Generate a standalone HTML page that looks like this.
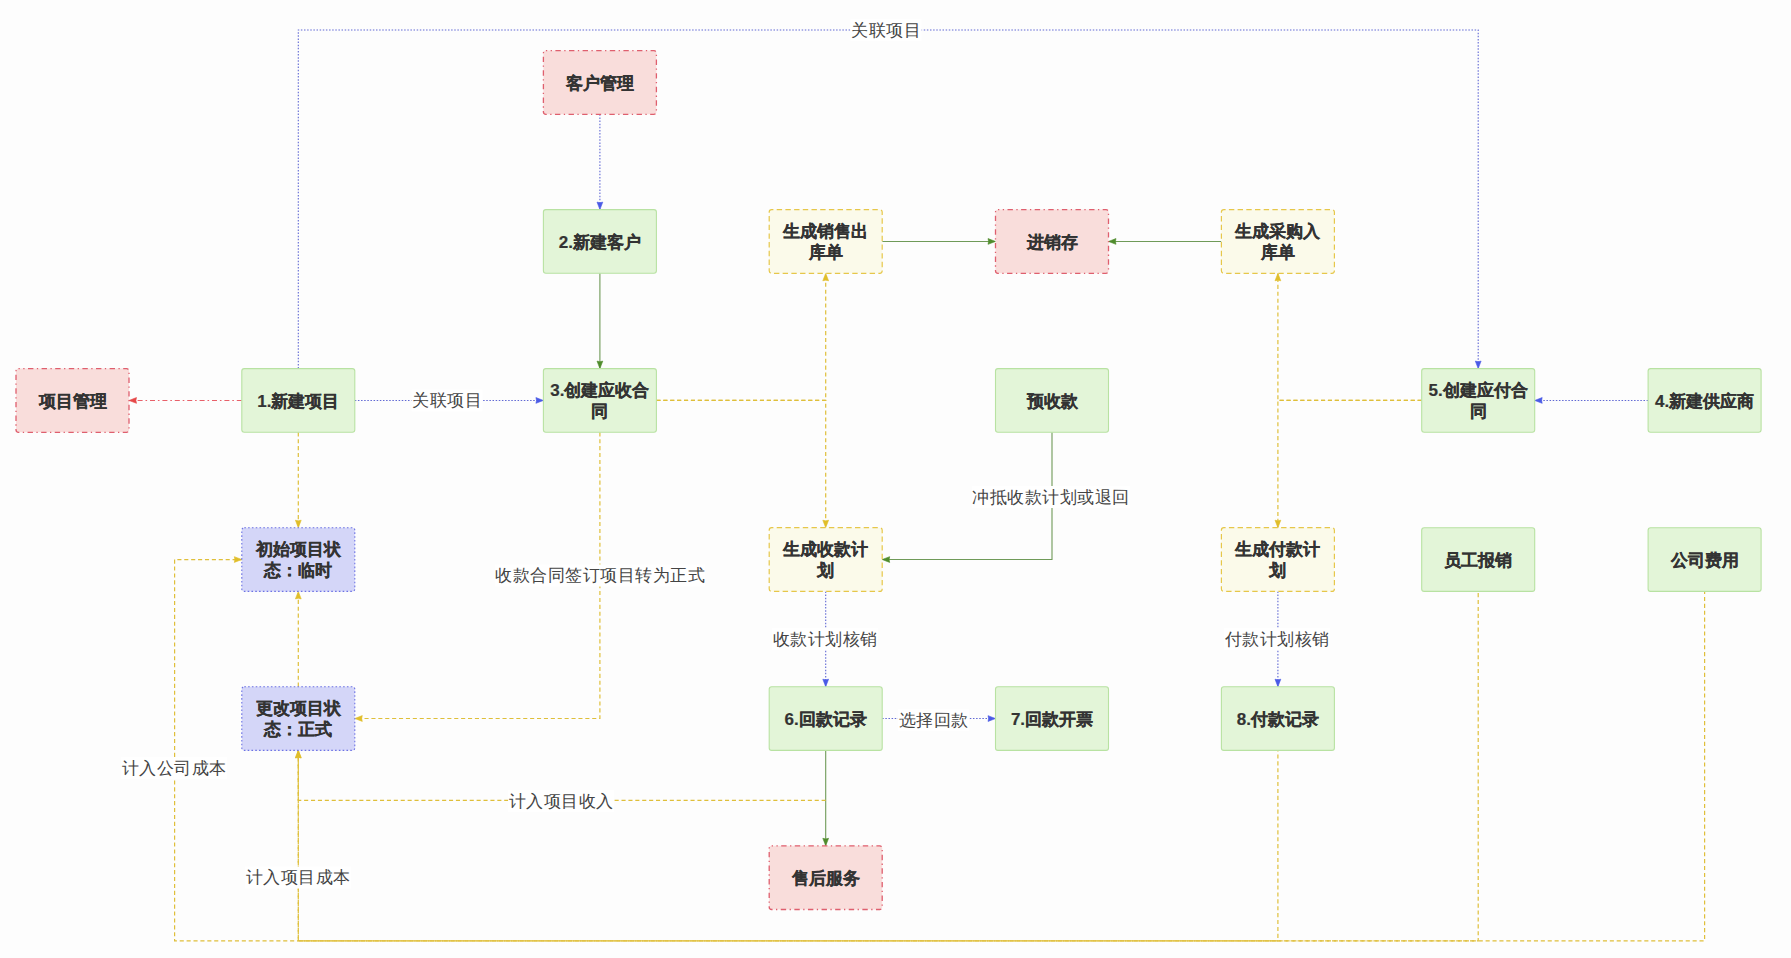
<!DOCTYPE html>
<html><head><meta charset="utf-8"><style>
html,body{margin:0;padding:0;background:#fdfdfd;width:1791px;height:958px;overflow:hidden}
svg{display:block}
text{font-family:"Liberation Sans",sans-serif}
.bt{font-size:17px;font-weight:bold;fill:#333333;stroke:#333333;stroke-width:0.2px}
.lt{font-size:17px;letter-spacing:0.5px;fill:#444444}
</style></head><body>
<svg width="1791" height="958" viewBox="0 0 1791 958">
<path d="M599.90,114.30 L599.90,209.60" fill="none" stroke="#6068d4" stroke-width="1.1" stroke-dasharray="1.5 1.63"/>
<path d="M599.90,209.60 L597.00,202.10 L599.90,202.70 L602.80,202.10 Z" fill="#4a5ae6" stroke="#4a5ae6" stroke-width="0.6"/>
<path d="M599.90,273.30 L599.90,368.60" fill="none" stroke="#6f9a58" stroke-width="1.1"/>
<path d="M599.90,368.60 L597.00,361.10 L599.90,361.70 L602.80,361.10 Z" fill="#4f8c2c" stroke="#4f8c2c" stroke-width="0.6"/>
<path d="M354.80,400.45 L543.40,400.45" fill="none" stroke="#6068d4" stroke-width="1.1" stroke-dasharray="1.5 1.63"/>
<path d="M543.40,400.45 L535.90,403.35 L536.50,400.45 L535.90,397.55 Z" fill="#4a5ae6" stroke="#4a5ae6" stroke-width="0.6"/>
<path d="M241.80,400.45 L129.00,400.45" fill="none" stroke="#e8606a" stroke-width="1.1" stroke-dasharray="5 2.9 1.6 2.9"/>
<path d="M129.00,400.45 L136.50,397.55 L135.90,400.45 L136.50,403.35 Z" fill="#e64848" stroke="#e64848" stroke-width="0.6"/>
<path d="M298.30,368.60 L298.30,30.00 L1478.20,30.00 L1478.20,368.60" fill="none" stroke="#6068d4" stroke-width="1.1" stroke-dasharray="1.5 1.63"/>
<path d="M1478.20,368.60 L1475.30,361.10 L1478.20,361.70 L1481.10,361.10 Z" fill="#4a5ae6" stroke="#4a5ae6" stroke-width="0.6"/>
<path d="M1648.10,400.45 L1534.70,400.45" fill="none" stroke="#6068d4" stroke-width="1.1" stroke-dasharray="1.5 1.63"/>
<path d="M1534.70,400.45 L1542.20,397.55 L1541.60,400.45 L1542.20,403.35 Z" fill="#4a5ae6" stroke="#4a5ae6" stroke-width="0.6"/>
<path d="M298.30,432.30 L298.30,527.70" fill="none" stroke="#dfbf3a" stroke-width="1.2" stroke-dasharray="4.1 2.8"/>
<path d="M298.30,527.70 L295.40,520.20 L298.30,520.80 L301.20,520.20 Z" fill="#e0be2a" stroke="#e0be2a" stroke-width="0.6"/>
<path d="M298.30,686.70 L298.30,591.40" fill="none" stroke="#dfbf3a" stroke-width="1.2" stroke-dasharray="4.1 2.8"/>
<path d="M298.30,591.40 L301.20,598.90 L298.30,598.30 L295.40,598.90 Z" fill="#e0be2a" stroke="#e0be2a" stroke-width="0.6"/>
<path d="M599.90,432.30 L599.90,718.50 L354.80,718.50" fill="none" stroke="#dfbf3a" stroke-width="1.2" stroke-dasharray="4.1 2.8"/>
<path d="M354.80,718.50 L362.30,715.60 L361.70,718.50 L362.30,721.40 Z" fill="#e0be2a" stroke="#e0be2a" stroke-width="0.6"/>
<path d="M656.40,400.45 L825.70,400.45 L825.70,273.30" fill="none" stroke="#dfbf3a" stroke-width="1.2" stroke-dasharray="4.1 2.8"/>
<path d="M825.70,273.30 L828.60,280.80 L825.70,280.20 L822.80,280.80 Z" fill="#e0be2a" stroke="#e0be2a" stroke-width="0.6"/>
<path d="M656.40,400.45 L825.70,400.45 L825.70,527.70" fill="none" stroke="#dfbf3a" stroke-width="1.2" stroke-dasharray="4.1 2.8"/>
<path d="M825.70,527.70 L822.80,520.20 L825.70,520.80 L828.60,520.20 Z" fill="#e0be2a" stroke="#e0be2a" stroke-width="0.6"/>
<path d="M1421.70,400.45 L1277.90,400.45 L1277.90,273.30" fill="none" stroke="#dfbf3a" stroke-width="1.2" stroke-dasharray="4.1 2.8"/>
<path d="M1277.90,273.30 L1280.80,280.80 L1277.90,280.20 L1275.00,280.80 Z" fill="#e0be2a" stroke="#e0be2a" stroke-width="0.6"/>
<path d="M1421.70,400.45 L1277.90,400.45 L1277.90,527.70" fill="none" stroke="#dfbf3a" stroke-width="1.2" stroke-dasharray="4.1 2.8"/>
<path d="M1277.90,527.70 L1275.00,520.20 L1277.90,520.80 L1280.80,520.20 Z" fill="#e0be2a" stroke="#e0be2a" stroke-width="0.6"/>
<path d="M882.20,241.45 L995.50,241.45" fill="none" stroke="#6f9a58" stroke-width="1.1"/>
<path d="M995.50,241.45 L988.00,244.35 L988.60,241.45 L988.00,238.55 Z" fill="#4f8c2c" stroke="#4f8c2c" stroke-width="0.6"/>
<path d="M1221.40,241.45 L1108.50,241.45" fill="none" stroke="#6f9a58" stroke-width="1.1"/>
<path d="M1108.50,241.45 L1116.00,238.55 L1115.40,241.45 L1116.00,244.35 Z" fill="#4f8c2c" stroke="#4f8c2c" stroke-width="0.6"/>
<path d="M1052.00,432.30 L1052.00,559.55 L882.20,559.55" fill="none" stroke="#6f9a58" stroke-width="1.1"/>
<path d="M882.20,559.55 L889.70,556.65 L889.10,559.55 L889.70,562.45 Z" fill="#4f8c2c" stroke="#4f8c2c" stroke-width="0.6"/>
<path d="M825.70,591.40 L825.70,686.70" fill="none" stroke="#6068d4" stroke-width="1.1" stroke-dasharray="1.5 1.63"/>
<path d="M825.70,686.70 L822.80,679.20 L825.70,679.80 L828.60,679.20 Z" fill="#4a5ae6" stroke="#4a5ae6" stroke-width="0.6"/>
<path d="M1277.90,591.40 L1277.90,686.70" fill="none" stroke="#6068d4" stroke-width="1.1" stroke-dasharray="1.5 1.63"/>
<path d="M1277.90,686.70 L1275.00,679.20 L1277.90,679.80 L1280.80,679.20 Z" fill="#4a5ae6" stroke="#4a5ae6" stroke-width="0.6"/>
<path d="M882.20,718.55 L995.50,718.55" fill="none" stroke="#6068d4" stroke-width="1.1" stroke-dasharray="1.5 1.63"/>
<path d="M995.50,718.55 L988.00,721.45 L988.60,718.55 L988.00,715.65 Z" fill="#4a5ae6" stroke="#4a5ae6" stroke-width="0.6"/>
<path d="M825.70,750.40 L825.70,845.80" fill="none" stroke="#6f9a58" stroke-width="1.1"/>
<path d="M825.70,845.80 L822.80,838.30 L825.70,838.90 L828.60,838.30 Z" fill="#4f8c2c" stroke="#4f8c2c" stroke-width="0.6"/>
<path d="M825.70,800.40 L298.30,800.40 L298.30,750.40" fill="none" stroke="#dfbf3a" stroke-width="1.2" stroke-dasharray="4.1 2.8"/>
<path d="M1277.90,750.40 L1277.90,940.90 L298.30,940.90 L298.30,750.40" fill="none" stroke="#dfbf3a" stroke-width="1.2" stroke-dasharray="4.1 2.8" stroke-dashoffset="2.90"/>
<path d="M298.30,750.40 L301.20,757.90 L298.30,757.30 L295.40,757.90 Z" fill="#e0be2a" stroke="#e0be2a" stroke-width="0.6"/>
<path d="M1478.20,591.40 L1478.20,940.90 L174.60,940.90 L174.60,559.55 L241.80,559.55" fill="none" stroke="#dfbf3a" stroke-width="1.2" stroke-dasharray="4.1 2.8" stroke-dashoffset="5.20"/>
<path d="M241.80,559.55 L234.30,562.45 L234.90,559.55 L234.30,556.65 Z" fill="#e0be2a" stroke="#e0be2a" stroke-width="0.6"/>
<path d="M1704.60,591.40 L1704.60,940.90 L298.30,940.90 L298.30,750.40" fill="none" stroke="#dfbf3a" stroke-width="1.2" stroke-dasharray="4.1 2.8" stroke-dashoffset="1.40"/>
<path d="M298.30,750.40 L301.20,757.90 L298.30,757.30 L295.40,757.90 Z" fill="#e0be2a" stroke="#e0be2a" stroke-width="0.6"/>
<rect x="16.0" y="368.6" width="113" height="63.7" rx="2.5" fill="#f9dddb" stroke="#df5f6e" stroke-width="1.3" stroke-dasharray="5.4 3.45 1.3 3.45" stroke-dashoffset="4.1"/>
<text class="bt" x="72.5" y="401.15000000000003" text-anchor="middle" dominant-baseline="central">项目管理</text>
<rect x="241.8" y="368.6" width="113" height="63.7" rx="2.5" fill="#e3f5d8" stroke="#b8e2a2" stroke-width="1.1"/>
<text class="bt" x="298.3" y="401.15000000000003" text-anchor="middle" dominant-baseline="central">1.新建项目</text>
<rect x="543.4" y="50.6" width="113" height="63.7" rx="2.5" fill="#f9dddb" stroke="#df5f6e" stroke-width="1.3" stroke-dasharray="5.4 3.45 1.3 3.45" stroke-dashoffset="4.1"/>
<text class="bt" x="599.9" y="83.15" text-anchor="middle" dominant-baseline="central">客户管理</text>
<rect x="543.4" y="209.6" width="113" height="63.7" rx="2.5" fill="#e3f5d8" stroke="#b8e2a2" stroke-width="1.1"/>
<text class="bt" x="599.9" y="242.14999999999998" text-anchor="middle" dominant-baseline="central">2.新建客户</text>
<rect x="543.4" y="368.6" width="113" height="63.7" rx="2.5" fill="#e3f5d8" stroke="#b8e2a2" stroke-width="1.1"/>
<text class="bt" x="599.9" y="390.65000000000003" text-anchor="middle" dominant-baseline="central">3.创建应收合</text>
<text class="bt" x="599.9" y="411.65000000000003" text-anchor="middle" dominant-baseline="central">同</text>
<rect x="769.2" y="209.6" width="113" height="63.7" rx="2.5" fill="#fbfaea" stroke="#e6c74a" stroke-width="1.2" stroke-dasharray="5.4 3.3" stroke-dashoffset="3.7"/>
<text class="bt" x="825.7" y="231.64999999999998" text-anchor="middle" dominant-baseline="central">生成销售出</text>
<text class="bt" x="825.7" y="252.64999999999998" text-anchor="middle" dominant-baseline="central">库单</text>
<rect x="995.5" y="209.6" width="113" height="63.7" rx="2.5" fill="#f9dddb" stroke="#df5f6e" stroke-width="1.3" stroke-dasharray="5.4 3.45 1.3 3.45" stroke-dashoffset="4.1"/>
<text class="bt" x="1052.0" y="242.14999999999998" text-anchor="middle" dominant-baseline="central">进销存</text>
<rect x="1221.4" y="209.6" width="113" height="63.7" rx="2.5" fill="#fbfaea" stroke="#e6c74a" stroke-width="1.2" stroke-dasharray="5.4 3.3" stroke-dashoffset="3.7"/>
<text class="bt" x="1277.9" y="231.64999999999998" text-anchor="middle" dominant-baseline="central">生成采购入</text>
<text class="bt" x="1277.9" y="252.64999999999998" text-anchor="middle" dominant-baseline="central">库单</text>
<rect x="995.5" y="368.6" width="113" height="63.7" rx="2.5" fill="#e3f5d8" stroke="#b8e2a2" stroke-width="1.1"/>
<text class="bt" x="1052.0" y="401.15000000000003" text-anchor="middle" dominant-baseline="central">预收款</text>
<rect x="1421.7" y="368.6" width="113" height="63.7" rx="2.5" fill="#e3f5d8" stroke="#b8e2a2" stroke-width="1.1"/>
<text class="bt" x="1478.2" y="390.65000000000003" text-anchor="middle" dominant-baseline="central">5.创建应付合</text>
<text class="bt" x="1478.2" y="411.65000000000003" text-anchor="middle" dominant-baseline="central">同</text>
<rect x="1648.1" y="368.6" width="113" height="63.7" rx="2.5" fill="#e3f5d8" stroke="#b8e2a2" stroke-width="1.1"/>
<text class="bt" x="1704.6" y="401.15000000000003" text-anchor="middle" dominant-baseline="central">4.新建供应商</text>
<rect x="241.8" y="527.7" width="113" height="63.7" rx="2.5" fill="#d4d6f8" stroke="#6c72e4" stroke-width="1.1" stroke-dasharray="1.6 2.2" stroke-dashoffset="0"/>
<text class="bt" x="298.3" y="549.7500000000001" text-anchor="middle" dominant-baseline="central">初始项目状</text>
<text class="bt" x="298.3" y="570.7500000000001" text-anchor="middle" dominant-baseline="central">态：临时</text>
<rect x="769.2" y="527.7" width="113" height="63.7" rx="2.5" fill="#fbfaea" stroke="#e6c74a" stroke-width="1.2" stroke-dasharray="5.4 3.3" stroke-dashoffset="3.7"/>
<text class="bt" x="825.7" y="549.7500000000001" text-anchor="middle" dominant-baseline="central">生成收款计</text>
<text class="bt" x="825.7" y="570.7500000000001" text-anchor="middle" dominant-baseline="central">划</text>
<rect x="1221.4" y="527.7" width="113" height="63.7" rx="2.5" fill="#fbfaea" stroke="#e6c74a" stroke-width="1.2" stroke-dasharray="5.4 3.3" stroke-dashoffset="3.7"/>
<text class="bt" x="1277.9" y="549.7500000000001" text-anchor="middle" dominant-baseline="central">生成付款计</text>
<text class="bt" x="1277.9" y="570.7500000000001" text-anchor="middle" dominant-baseline="central">划</text>
<rect x="1421.7" y="527.7" width="113" height="63.7" rx="2.5" fill="#e3f5d8" stroke="#b8e2a2" stroke-width="1.1"/>
<text class="bt" x="1478.2" y="560.2500000000001" text-anchor="middle" dominant-baseline="central">员工报销</text>
<rect x="1648.1" y="527.7" width="113" height="63.7" rx="2.5" fill="#e3f5d8" stroke="#b8e2a2" stroke-width="1.1"/>
<text class="bt" x="1704.6" y="560.2500000000001" text-anchor="middle" dominant-baseline="central">公司费用</text>
<rect x="241.8" y="686.7" width="113" height="63.7" rx="2.5" fill="#d4d6f8" stroke="#6c72e4" stroke-width="1.1" stroke-dasharray="1.6 2.2" stroke-dashoffset="0"/>
<text class="bt" x="298.3" y="708.7500000000001" text-anchor="middle" dominant-baseline="central">更改项目状</text>
<text class="bt" x="298.3" y="729.7500000000001" text-anchor="middle" dominant-baseline="central">态：正式</text>
<rect x="769.2" y="686.7" width="113" height="63.7" rx="2.5" fill="#e3f5d8" stroke="#b8e2a2" stroke-width="1.1"/>
<text class="bt" x="825.7" y="719.2500000000001" text-anchor="middle" dominant-baseline="central">6.回款记录</text>
<rect x="995.5" y="686.7" width="113" height="63.7" rx="2.5" fill="#e3f5d8" stroke="#b8e2a2" stroke-width="1.1"/>
<text class="bt" x="1052.0" y="719.2500000000001" text-anchor="middle" dominant-baseline="central">7.回款开票</text>
<rect x="1221.4" y="686.7" width="113" height="63.7" rx="2.5" fill="#e3f5d8" stroke="#b8e2a2" stroke-width="1.1"/>
<text class="bt" x="1277.9" y="719.2500000000001" text-anchor="middle" dominant-baseline="central">8.付款记录</text>
<rect x="769.2" y="845.8" width="113" height="63.7" rx="2.5" fill="#f9dddb" stroke="#df5f6e" stroke-width="1.3" stroke-dasharray="5.4 3.45 1.3 3.45" stroke-dashoffset="4.1"/>
<text class="bt" x="825.7" y="878.35" text-anchor="middle" dominant-baseline="central">售后服务</text>
<rect x="850.4" y="19" width="71.2" height="22" fill="#ffffff"/>
<text class="lt" x="886" y="30" text-anchor="middle" dominant-baseline="central">关联项目</text>
<rect x="411.4" y="389.5" width="71.2" height="22" fill="#ffffff"/>
<text class="lt" x="447" y="400.5" text-anchor="middle" dominant-baseline="central">关联项目</text>
<rect x="495.2" y="564.5" width="209.60000000000002" height="22" fill="#ffffff"/>
<text class="lt" x="600" y="575.5" text-anchor="middle" dominant-baseline="central">收款合同签订项目转为正式</text>
<rect x="972.15" y="486" width="157.70000000000002" height="22" fill="#ffffff"/>
<text class="lt" x="1051" y="497" text-anchor="middle" dominant-baseline="central">冲抵收款计划或退回</text>
<rect x="772.1" y="628" width="105.80000000000001" height="22" fill="#ffffff"/>
<text class="lt" x="825" y="639" text-anchor="middle" dominant-baseline="central">收款计划核销</text>
<rect x="1224.1" y="628" width="105.80000000000001" height="22" fill="#ffffff"/>
<text class="lt" x="1277" y="639" text-anchor="middle" dominant-baseline="central">付款计划核销</text>
<rect x="897.9" y="709" width="71.2" height="22" fill="#ffffff"/>
<text class="lt" x="933.5" y="720" text-anchor="middle" dominant-baseline="central">选择回款</text>
<rect x="121.1" y="757" width="105.80000000000001" height="22" fill="#ffffff"/>
<text class="lt" x="174" y="768" text-anchor="middle" dominant-baseline="central">计入公司成本</text>
<rect x="508.1" y="790" width="105.80000000000001" height="22" fill="#ffffff"/>
<text class="lt" x="561" y="801" text-anchor="middle" dominant-baseline="central">计入项目收入</text>
<rect x="245.1" y="866.5" width="105.80000000000001" height="22" fill="#ffffff"/>
<text class="lt" x="298" y="877.5" text-anchor="middle" dominant-baseline="central">计入项目成本</text>
</svg></body></html>
